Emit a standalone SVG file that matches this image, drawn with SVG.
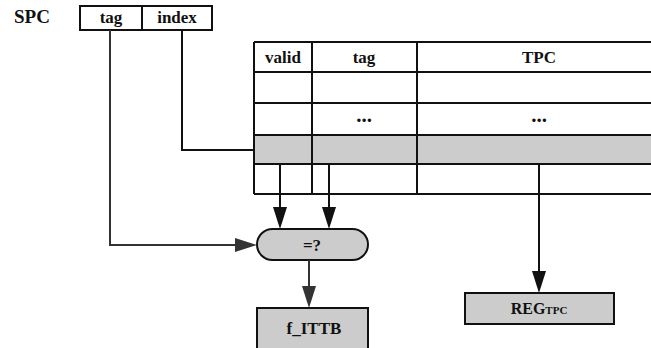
<svg xmlns="http://www.w3.org/2000/svg" width="651" height="348" viewBox="0 0 651 348" font-family="'Liberation Serif', 'DejaVu Serif', serif">
<style>
text{font-family:'Liberation Serif','DejaVu Serif',serif;font-weight:bold;fill:#111;text-anchor:middle}
.t{font-size:17px}
.d{font-size:21px}
.box{stroke:#111;stroke-width:2;fill:#fff}
.sh{fill:#ccc;stroke:#111;stroke-width:2}
.ln{stroke:#111;stroke-width:2;fill:none}
.dl{stroke:#333;stroke-width:2;fill:none}
</style>
<g id="spc-label"><text x="32" y="23" style="font-size:19px">SPC</text></g>
<g id="spc">
<rect class="box" x="80" y="6" width="132" height="24"/>
<line class="ln" x1="142" y1="6" x2="142" y2="30"/>
<text class="t" x="111" y="23">tag</text>
<text class="t" x="177" y="23">index</text>
</g>
<g id="table">
<rect x="254" y="135" width="400" height="29" fill="#ccc"/>
<g class="ln">
<line x1="254" y1="42" x2="654" y2="42"/>
<line x1="254" y1="72" x2="654" y2="72"/>
<line x1="254" y1="103" x2="654" y2="103"/>
<line x1="254" y1="135" x2="654" y2="135"/>
<line x1="254" y1="164" x2="654" y2="164"/>
<line x1="254" y1="194" x2="654" y2="194"/>
<line x1="254" y1="42" x2="254" y2="194"/>
<line x1="312" y1="42" x2="312" y2="194"/>
<line x1="417" y1="42" x2="417" y2="194"/>
</g>
<text class="t" x="283" y="63">valid</text>
<text class="t" x="364" y="63">tag</text>
<text class="t" x="539" y="63">TPC</text>
<text class="d" x="364" y="122">...</text>
<text class="d" x="539" y="122">...</text>
</g>
<g id="cmp">
<rect class="sh" x="257" y="229" width="111" height="31" rx="15.5"/>
<text class="t" x="312" y="251">=?</text>
</g>
<g id="fittb">
<rect class="sh" x="257" y="308" width="111" height="42"/>
<text class="t" x="314" y="334">f_ITTB</text>
</g>
<g id="reg">
<rect class="sh" x="465" y="293" width="149" height="31"/>
<text x="539" y="314"><tspan style="font-size:16px">REG</tspan><tspan style="font-size:11px">TPC</tspan></text>
</g>
<g id="connectors">
<polyline class="ln" points="182,30 182,150 254,150"/>
<polyline class="dl" points="110,30 110,245 236,245"/>
<polygon fill="#333" points="235,238 257,245 235,252"/>
<line class="ln" x1="280" y1="163" x2="280" y2="208"/>
<polygon fill="#111" points="273,207 287,207 280,229"/>
<line class="ln" x1="329" y1="163" x2="329" y2="208"/>
<polygon fill="#111" points="322,207 336,207 329,229"/>
<line class="dl" x1="309" y1="260" x2="309" y2="287"/>
<polygon fill="#333" points="302,286 316,286 309,308"/>
<line class="ln" x1="539" y1="164" x2="539" y2="272"/>
<polygon fill="#111" points="532,271 546,271 539,293"/>
</g>
</svg>
